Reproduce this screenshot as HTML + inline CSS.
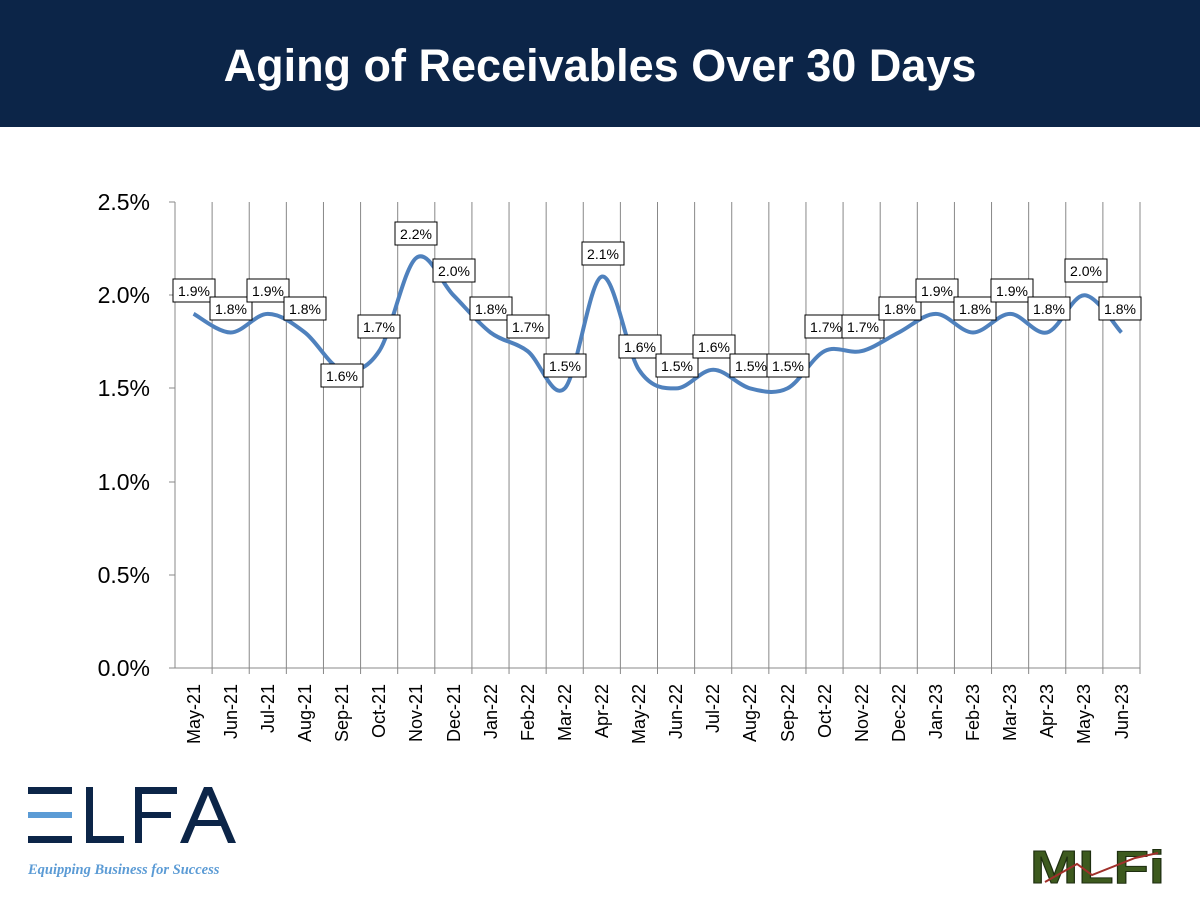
<!DOCTYPE html>
<html><head><meta charset="utf-8"><style>
body{margin:0;width:1200px;height:900px;background:#fff;overflow:hidden;font-family:"Liberation Sans",sans-serif}
.hd{position:absolute;left:0;top:0;width:1200px;height:127px;background:#0c2548;color:#fff;font-weight:bold;font-size:45px;text-align:center;line-height:132px}
</style></head><body>
<div class="hd">Aging of Receivables Over 30 Days</div>
<svg width="1200" height="900" style="position:absolute;left:0;top:0" xmlns="http://www.w3.org/2000/svg">
<g id="grid" stroke="#888" stroke-width="1"></g>
<line x1="175" y1="202" x2="175" y2="668" stroke="#888"/>
<line x1="175" y1="668" x2="1140" y2="668" stroke="#888"/>
<g stroke="#888"><line x1="169" y1="202" x2="175" y2="202"/><line x1="169" y1="295" x2="175" y2="295"/><line x1="169" y1="388" x2="175" y2="388"/><line x1="169" y1="482" x2="175" y2="482"/><line x1="169" y1="575" x2="175" y2="575"/><line x1="169" y1="668" x2="175" y2="668"/></g>
<g font-size="23" text-anchor="end" fill="#000">
<text x="150" y="210">2.5%</text><text x="150" y="303">2.0%</text><text x="150" y="396">1.5%</text><text x="150" y="490">1.0%</text><text x="150" y="583">0.5%</text><text x="150" y="676">0.0%</text></g>
<path id="ln" fill="none" stroke="#4f81bd" stroke-width="4"/>
<g id="xl" font-size="18" fill="#000" text-anchor="end">
<text transform="translate(200,684) rotate(-90)">May-21</text>
<text transform="translate(237,684) rotate(-90)">Jun-21</text>
<text transform="translate(274,684) rotate(-90)">Jul-21</text>
<text transform="translate(311,684) rotate(-90)">Aug-21</text>
<text transform="translate(348,684) rotate(-90)">Sep-21</text>
<text transform="translate(385,684) rotate(-90)">Oct-21</text>
<text transform="translate(422,684) rotate(-90)">Nov-21</text>
<text transform="translate(460,684) rotate(-90)">Dec-21</text>
<text transform="translate(497,684) rotate(-90)">Jan-22</text>
<text transform="translate(534,684) rotate(-90)">Feb-22</text>
<text transform="translate(571,684) rotate(-90)">Mar-22</text>
<text transform="translate(608,684) rotate(-90)">Apr-22</text>
<text transform="translate(645,684) rotate(-90)">May-22</text>
<text transform="translate(682,684) rotate(-90)">Jun-22</text>
<text transform="translate(719,684) rotate(-90)">Jul-22</text>
<text transform="translate(756,684) rotate(-90)">Aug-22</text>
<text transform="translate(794,684) rotate(-90)">Sep-22</text>
<text transform="translate(831,684) rotate(-90)">Oct-22</text>
<text transform="translate(868,684) rotate(-90)">Nov-22</text>
<text transform="translate(905,684) rotate(-90)">Dec-22</text>
<text transform="translate(942,684) rotate(-90)">Jan-23</text>
<text transform="translate(979,684) rotate(-90)">Feb-23</text>
<text transform="translate(1016,684) rotate(-90)">Mar-23</text>
<text transform="translate(1053,684) rotate(-90)">Apr-23</text>
<text transform="translate(1090,684) rotate(-90)">May-23</text>
<text transform="translate(1128,684) rotate(-90)">Jun-23</text>
</g>
<g id="lb" font-size="14" text-anchor="middle" fill="#000">
<text x="194" y="296">1.9%</text><text x="231" y="314">1.8%</text><text x="268" y="296">1.9%</text><text x="305" y="314">1.8%</text><text x="342" y="381">1.6%</text><text x="379" y="332">1.7%</text><text x="416" y="239">2.2%</text><text x="454" y="276">2.0%</text><text x="491" y="314">1.8%</text><text x="528" y="332">1.7%</text><text x="565" y="371">1.5%</text><text x="603" y="259">2.1%</text><text x="640" y="352">1.6%</text><text x="677" y="371">1.5%</text><text x="714" y="352">1.6%</text><text x="751" y="371">1.5%</text><text x="788" y="371">1.5%</text><text x="826" y="332">1.7%</text><text x="863" y="332">1.7%</text><text x="900" y="314">1.8%</text><text x="937" y="296">1.9%</text><text x="975" y="314">1.8%</text><text x="1012" y="296">1.9%</text><text x="1049" y="314">1.8%</text><text x="1086" y="276">2.0%</text><text x="1120" y="314">1.8%</text>
</g>
<g fill="#0c2548"><rect x="28" y="787" width="44" height="7"/><rect x="28" y="812" width="44" height="6" fill="#5b9bd5"/><rect x="28" y="836" width="44" height="7"/>
<rect x="86" y="787" width="7" height="56"/><rect x="86" y="836" width="38" height="7"/>
<rect x="135" y="787" width="7" height="56"/><rect x="135" y="787" width="42" height="7"/><rect x="135" y="812" width="36" height="6"/>
<path d="M180 843 L204 787 L212 787 L236 843 L228 843 L208 795 L188 843Z"/><rect x="193" y="820" width="30" height="6"/></g>
<text x="28" y="874" font-family="Liberation Serif,serif" font-style="italic" font-weight="bold" font-size="14.5" fill="#5b9bd5">Equipping Business for Success</text>
<text x="1030" y="883" font-family="Liberation Sans,sans-serif" font-weight="bold" font-size="46" fill="#3d5a1e" stroke="#1e2e10" stroke-width="1" textLength="135" lengthAdjust="spacingAndGlyphs">MLFi</text>
<polyline points="1045,882 1077,864 1092,875 1135,858 1158,853" fill="none" stroke="#a0302a" stroke-width="2"/>
</svg>
<script>
var v=[1.9,1.8,1.9,1.8,1.6,1.7,2.2,2.0,1.8,1.7,1.5,2.1,1.6,1.5,1.6,1.5,1.5,1.7,1.7,1.8,1.9,1.8,1.9,1.8,2.0,1.8];
var w=965/26,p=v.map(function(a,i){return [175+w*(i+.5),668-a*186.4]});
var d="M"+p[0];
for(var i=0;i<p.length-1;i++){var a=p[i-1]||p[i],b=p[i],c=p[i+1],e=p[i+2]||c;
d+=" C"+(b[0]+(c[0]-a[0])/6)+","+(b[1]+(c[1]-a[1])/6)+" "+(c[0]-(e[0]-b[0])/6)+","+(c[1]-(e[1]-b[1])/6)+" "+c[0]+","+c[1];}
document.getElementById("ln").setAttribute("d",d);
var g=document.getElementById("grid"),ns="http://www.w3.org/2000/svg";
for(var k=1;k<=26;k++){var l=document.createElementNS(ns,"line");var x=175+w*k;l.setAttribute("x1",x);l.setAttribute("x2",x);l.setAttribute("y1",202);l.setAttribute("y2",674);g.appendChild(l);}
var lb=document.getElementById("lb");
Array.prototype.slice.call(lb.children).forEach(function(t){var x=+t.getAttribute("x"),y=+t.getAttribute("y");var r=document.createElementNS(ns,"rect");r.setAttribute("x",x-21);r.setAttribute("y",y-17);r.setAttribute("width",42);r.setAttribute("height",23);r.setAttribute("fill","#fff");r.setAttribute("stroke","#000");lb.insertBefore(r,t);});
</script>
</body></html>
